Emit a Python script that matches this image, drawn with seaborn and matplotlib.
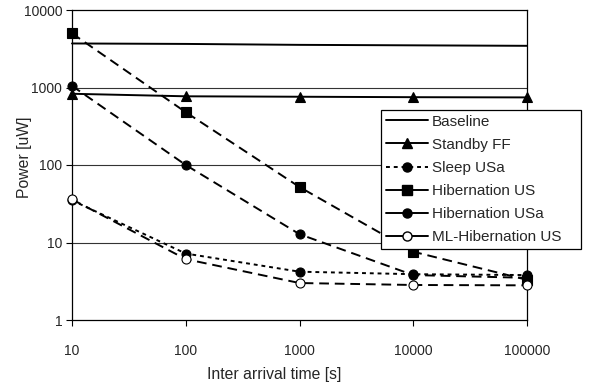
import matplotlib
matplotlib.use("Agg")
import matplotlib.pyplot as plt
from matplotlib.lines import Line2D
from matplotlib.ticker import FixedLocator, FixedFormatter, NullLocator
import seaborn as sns
import pandas as pd

x_values = [10, 100, 1000, 10000, 100000]
baseline = [3700, 3650, 3550, 3500, 3450]
standby_ff = [830, 770, 760, 750, 745]
sleep_usa = [35, 7.2, 4.2, 3.9, 3.8]
hibernation_us = [5000, 480, 52, 7.6, 3.3]
hibernation_usa = [1050, 100, 12.8, 3.8, 3.5]
ml_hibernation_us = [36, 6.1, 3.0, 2.83, 2.8]

x_ticks = [10, 100, 1000, 10000, 100000]
x_tick_labels = ["10", "100", "1000", "10000", "100000"]
y_ticks = [1, 10, 100, 1000, 10000]
y_tick_labels = ["1", "10", "100", "1000", "10000"]

sns.set_style("white")
plt.rcParams["font.family"] = ["Liberation Sans", "DejaVu Sans"]

fig = plt.figure(figsize=(5.9, 3.85), dpi=100)
ax = fig.add_axes([72/590, 1-320/385, (527-72)/590, (320-10)/385])

series = [
    ("Baseline", baseline, dict(linestyle="-", marker=None)),
    ("Standby FF", standby_ff, dict(linestyle="-", marker="^", markersize=7.5, markerfacecolor="black")),
    ("Sleep USa", sleep_usa, dict(linestyle=(0, (2, 2)), marker="o", markersize=6.5, markerfacecolor="black")),
    ("Hibernation US", hibernation_us, dict(linestyle=(0, (5, 3)), marker="s", markersize=7, markerfacecolor="black")),
    ("Hibernation USa", hibernation_usa, dict(linestyle=(0, (5, 3)), marker="o", markersize=6.5, markerfacecolor="black")),
    ("ML-Hibernation US", ml_hibernation_us, dict(linestyle=(0, (5, 3)), marker="o", markersize=6.5, markerfacecolor="white")),
]

for name, vals, kw in series:
    df = pd.DataFrame({"x": x_values, "y": vals})
    sns.lineplot(data=df, x="x", y="y", ax=ax, color="black", linewidth=1.4,
                 markeredgecolor="black", markeredgewidth=0.8, clip_on=False,
                 zorder=3, **kw)

ax.set_xscale("log")
ax.set_yscale("log")
ax.set_xlim(10, 100000)
ax.set_ylim(1, 10000)

for yv in [10, 100, 1000]:
    ax.axhline(yv, color="#333333", linewidth=0.8, zorder=1)

ax.xaxis.set_major_locator(FixedLocator(x_ticks))
ax.xaxis.set_major_formatter(FixedFormatter(x_tick_labels))
ax.yaxis.set_major_locator(FixedLocator(y_ticks))
ax.yaxis.set_major_formatter(FixedFormatter(y_tick_labels))
ax.xaxis.set_minor_locator(NullLocator())
ax.yaxis.set_minor_locator(NullLocator())

ax.tick_params(axis="x", which="major", direction="out", length=4, width=0.8,
               color="black", pad=13, labelsize=10, bottom=True)
ax.tick_params(axis="y", which="major", direction="out", length=4, width=0.8,
               color="black", pad=3, labelsize=10, left=True)

for sp in ax.spines.values():
    sp.set_visible(True)
    sp.set_color("black")
    sp.set_linewidth(0.9)

ax.set_xlabel("Inter arrival time [s]", fontsize=11.3)
ax.set_ylabel("Power [uW]", fontsize=11.3)
ax.xaxis.set_label_coords((274.5-72)/455, (320-367)/310)
ax.yaxis.set_label_coords((32-72)/455, (320-157.5)/310)

handles = [
    Line2D([], [], color="black", linewidth=1.4, linestyle="-"),
    Line2D([], [], color="black", linewidth=1.4, linestyle="-", marker="^", markersize=7.5),
    Line2D([], [], color="black", linewidth=1.4, linestyle=(0, (2, 2)), marker="o", markersize=6.5),
    Line2D([], [], color="black", linewidth=1.4, linestyle="-", marker="s", markersize=7),
    Line2D([], [], color="black", linewidth=1.4, linestyle="-", marker="o", markersize=6.5),
    Line2D([], [], color="black", linewidth=1.4, linestyle="-", marker="o", markersize=6.5,
           markerfacecolor="white", markeredgecolor="black"),
]
labels = [s[0] for s in series]
leg = fig.legend(handles, labels, loc="upper left",
                 bbox_to_anchor=(381/590, (385-247)/385, 200/590, 137/385), mode="expand",
                 fontsize=11, frameon=True, fancybox=False, framealpha=1,
                 edgecolor="black", handlelength=2.75, handletextpad=0.3,
                 labelspacing=0.6, borderpad=0.3, borderaxespad=0)
leg.get_frame().set_linewidth(0.9)

fig.savefig("out.png", dpi=100)
